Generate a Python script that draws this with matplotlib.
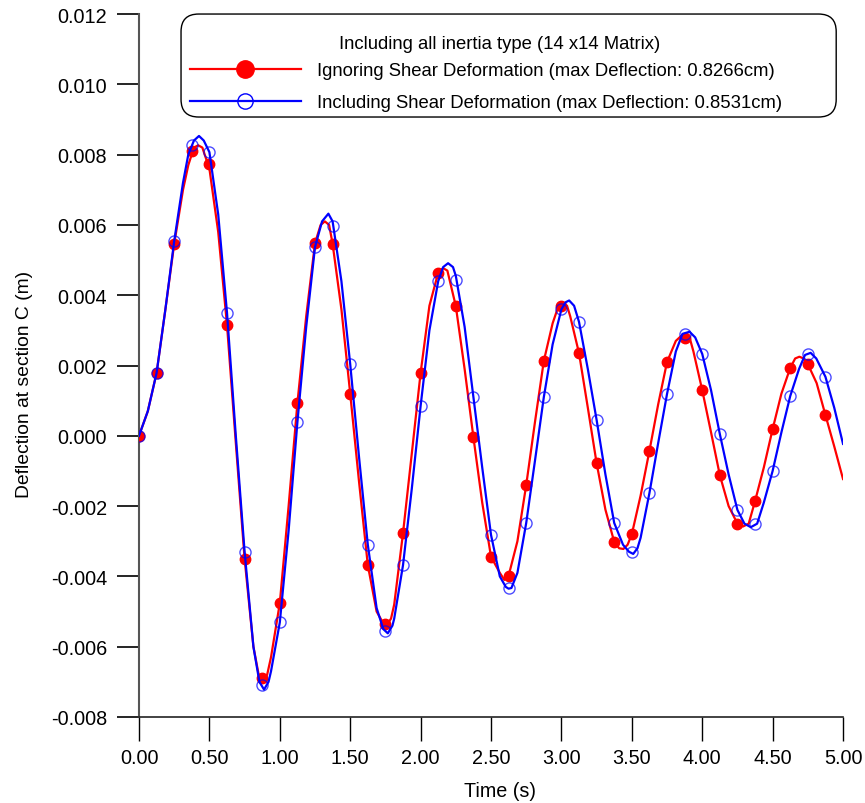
import matplotlib
matplotlib.use("Agg")
import matplotlib.pyplot as plt
from matplotlib.lines import Line2D
from matplotlib.patches import FancyBboxPatch
from matplotlib.ticker import FormatStrFormatter

plt.rcParams["font.family"] = ["Liberation Sans", "DejaVu Sans"]
plt.rcParams["axes.unicode_minus"] = False

# Marker samples (every 0.125 s)
marker_t = [0.0, 0.125, 0.25, 0.375, 0.5, 0.625, 0.75, 0.875, 1.0, 1.125,
            1.25, 1.375, 1.5, 1.625, 1.75, 1.875, 2.0, 2.125, 2.25, 2.375,
            2.5, 2.625, 2.75, 2.875, 3.0, 3.125, 3.25, 3.375, 3.5, 3.625,
            3.75, 3.875, 4.0, 4.125, 4.25, 4.375, 4.5, 4.625, 4.75, 4.875]
red_marker = [0.0, 0.00179, 0.00546, 0.0081, 0.00773, 0.00315, -0.0035, -0.0069, -0.00476, 0.00093,
              0.00548, 0.00546, 0.0012, -0.00368, -0.00536, -0.00277, 0.00179, 0.00464, 0.00369, -0.00004,
              -0.00344, -0.00398, -0.0014, 0.00213, 0.00369, 0.00235, -0.00078, -0.00302, -0.0028, -0.00043,
              0.0021, 0.00279, 0.0013, -0.00112, -0.0025, -0.00186, 0.00019, 0.00193, 0.00204, 0.00059]
blue_marker = [0.0, 0.00179, 0.00554, 0.00827, 0.00807, 0.0035, -0.0033, -0.0071, -0.00531, 0.00039,
               0.00537, 0.00597, 0.00204, -0.0031, -0.00556, -0.00368, 0.00085, 0.0044, 0.00443, 0.0011,
               -0.00282, -0.00433, -0.00248, 0.0011, 0.0036, 0.00324, 0.00045, -0.00248, -0.0033, -0.00163,
               0.00119, 0.0029, 0.00233, 0.00005, -0.00211, -0.0025, -0.001, 0.00113, 0.00233, 0.00168]

# Continuous response curves
red_t = [0.0, 0.0625, 0.125, 0.1875, 0.25, 0.3125, 0.35, 0.39, 0.42, 0.45,
         0.5, 0.5625, 0.625, 0.6875, 0.75, 0.8125, 0.85, 0.88, 0.91, 0.9375,
         1.0, 1.0625, 1.125, 1.1875, 1.25, 1.29, 1.32, 1.35, 1.375, 1.4375,
         1.5, 1.5625, 1.625, 1.6875, 1.73, 1.76, 1.79, 1.8125, 1.875, 1.9375,
         2.0, 2.0625, 2.125, 2.16, 2.19, 2.25, 2.3125, 2.375, 2.4375, 2.5,
         2.5625, 2.595, 2.625, 2.6875, 2.75, 2.8125, 2.875, 2.9375, 2.98, 3.01,
         3.04, 3.0625, 3.125, 3.1875, 3.25, 3.3125, 3.375, 3.41, 3.44, 3.47,
         3.5, 3.5625, 3.625, 3.6875, 3.75, 3.8125, 3.85, 3.88, 3.91, 3.9375,
         4.0, 4.0625, 4.125, 4.1875, 4.25, 4.29, 4.33, 4.375, 4.4375, 4.5,
         4.5625, 4.625, 4.66, 4.69, 4.72, 4.75, 4.8125, 4.875, 4.9375, 5.0]
red_v = [0.0, 0.0007, 0.00179, 0.0036, 0.00546, 0.007, 0.0077, 0.0082, 0.008266, 0.0082,
         0.0076, 0.0058, 0.00315, -0.0002, -0.0035, -0.006, -0.0068, -0.00698, -0.0068, -0.0063,
         -0.00476, -0.002, 0.00093, 0.0034, 0.00548, 0.006, 0.0061, 0.006, 0.00546, 0.0036,
         0.0012, -0.0013, -0.00368, -0.005, -0.0053, -0.00538, -0.0052, -0.0048, -0.00277, -0.0005,
         0.00179, 0.0037, 0.00464, 0.00477, 0.0047, 0.00369, 0.0019, -0.00004, -0.0019, -0.00344,
         -0.0039, -0.0041, -0.00398, -0.003, -0.0014, 0.0004, 0.00213, 0.0032, 0.0037, 0.00378,
         0.0037, 0.0034, 0.00235, 0.0008, -0.00078, -0.0021, -0.00302, -0.0032, -0.00322, -0.0031,
         -0.0028, -0.0017, -0.00043, 0.0009, 0.0021, 0.0027, 0.00284, 0.00286, 0.0028, 0.0024,
         0.0013, 0.0001, -0.00112, -0.002, -0.0025, -0.00258, -0.0025, -0.00186, -0.0009, 0.00019,
         0.0012, 0.00193, 0.0022, 0.00225, 0.0022, 0.00204, 0.0015, 0.00059, -0.0003, -0.00123]

blue_t = [0.0, 0.0625, 0.125, 0.1875, 0.25, 0.3125, 0.35, 0.39, 0.426, 0.46,
          0.5, 0.5625, 0.625, 0.6875, 0.75, 0.8125, 0.855, 0.888, 0.92, 0.9375,
          1.0, 1.0625, 1.125, 1.1875, 1.25, 1.3, 1.345, 1.375, 1.4375, 1.5,
          1.5625, 1.625, 1.6875, 1.735, 1.767, 1.8, 1.8125, 1.875, 1.9375, 2.0,
          2.0625, 2.125, 2.16, 2.195, 2.23, 2.25, 2.3125, 2.375, 2.4375, 2.5,
          2.5625, 2.605, 2.625, 2.645, 2.6875, 2.75, 2.8125, 2.875, 2.9375, 3.0,
          3.03, 3.055, 3.09, 3.125, 3.1875, 3.25, 3.3125, 3.375, 3.4375, 3.48,
          3.51, 3.54, 3.5625, 3.625, 3.6875, 3.75, 3.8125, 3.86, 3.91, 3.95,
          4.0, 4.0625, 4.125, 4.1875, 4.25, 4.3, 4.345, 4.39, 4.4375, 4.5,
          4.5625, 4.625, 4.6875, 4.73, 4.77, 4.81, 4.875, 4.9375, 5.0]
blue_v = [0.0, 0.0007, 0.00179, 0.0036, 0.00554, 0.0072, 0.008, 0.0084, 0.008531, 0.0084,
          0.00807, 0.0063, 0.0035, 0.0, -0.0033, -0.006, -0.007, -0.00722, -0.007, -0.0067,
          -0.00531, -0.0027, 0.00039, 0.0031, 0.00537, 0.0061, 0.00632, 0.0061, 0.0044, 0.00204,
          -0.0006, -0.0031, -0.0049, -0.0055, -0.00562, -0.0054, -0.0052, -0.00368, -0.0015, 0.00085,
          0.003, 0.0044, 0.0048, 0.00491, 0.0048, 0.00455, 0.0031, 0.0011, -0.0009, -0.00282,
          -0.004, -0.0043, -0.00435, -0.00433, -0.0039, -0.00248, -0.0007, 0.0011, 0.0026, 0.0036,
          0.0038, 0.00385, 0.0037, 0.00324, 0.0019, 0.00045, -0.0011, -0.00248, -0.0031, -0.0033,
          -0.00336, -0.0032, -0.0029, -0.00163, -0.0002, 0.00119, 0.0024, 0.0029, 0.00296, 0.0028,
          0.00233, 0.0013, 0.00005, -0.0011, -0.00211, -0.0025, -0.0026, -0.0025, -0.0019, -0.001,
          0.0001, 0.00113, 0.0019, 0.0023, 0.00236, 0.0022, 0.00168, 0.0008, -0.00023]

legend_title = "Including all inertia type (14 x14 Matrix)"
red_label = "Ignoring Shear Deformation (max Deflection: 0.8266cm)"
blue_label = "Including Shear Deformation (max Deflection: 0.8531cm)"

fig = plt.figure(figsize=(8.65, 8.04), dpi=100)
ax = fig.add_axes([0.1607, 0.107, 0.8139, 0.8743])

ax.plot(red_t, red_v, color="#ff0000", linewidth=1.6, zorder=2)
ax.plot(marker_t, red_marker, linestyle="none", marker="o", markersize=7.5,
        color="#ff0000", zorder=3)
ax.plot(blue_t, blue_v, color="#0000ff", linewidth=1.6, zorder=4)
ax.plot(marker_t, blue_marker, linestyle="none", marker="o", markersize=8,
        markerfacecolor="none", markeredgecolor="#0000ff", markeredgewidth=1.0,
        alpha=0.7, zorder=5)

ax.set_xlim(0, 5)
ax.set_ylim(-0.008, 0.012)
ax.set_xticks([i * 0.5 for i in range(11)])
ax.set_yticks([-0.008 + i * 0.002 for i in range(11)])
ax.xaxis.set_major_formatter(FormatStrFormatter("%.2f"))
ax.yaxis.set_major_formatter(FormatStrFormatter("%.3f"))
ax.tick_params(axis="x", length=17, width=1, pad=5, labelsize=14.3, direction="out")
ax.tick_params(axis="y", length=16, width=1.2, pad=7, labelsize=14.3, direction="out")

ax.spines["top"].set_visible(False)
ax.spines["right"].set_visible(False)
ax.spines["left"].set_color("#555555")
ax.spines["left"].set_linewidth(1.5)
ax.spines["bottom"].set_color("#222222")
ax.spines["bottom"].set_linewidth(1.2)

ax.set_xlabel("Time (s)", fontsize=14.2)
ax.set_ylabel("Deflection at section C (m)", fontsize=13.9)
ax.xaxis.set_label_coords(0.513, -0.091)
ax.yaxis.set_label_coords(-0.151, 0.474)

# legend frame and title drawn separately (rounded box)
box = FancyBboxPatch((0.0597, 0.8535), 0.9306, 0.1465,
                     boxstyle="round,pad=0,rounding_size=0.025",
                     transform=ax.transAxes, facecolor="white",
                     edgecolor="black", linewidth=1.0, clip_on=False, zorder=6)
ax.add_patch(box)
ax.text(0.5128, 0.9574, legend_title, transform=ax.transAxes, fontsize=13.3,
        ha="center", va="center", zorder=7)

handles = [
    Line2D([], [], color="#ff0000", linewidth=1.6, marker="o", markersize=12.5),
    Line2D([], [], color="#0000ff", linewidth=1.6, marker="o", markersize=11,
           markerfacecolor="none", markeredgewidth=1.0),
]
leg = ax.legend(handles, [red_label, blue_label],
                loc="upper left", bbox_to_anchor=(0.0724, 0.5, 0.8807, 0.4317),
                mode="expand", borderaxespad=0, borderpad=0,
                fontsize=13.3, handlelength=6.0,
                handletextpad=0.9, labelspacing=0.81,
                frameon=False)
leg.set_zorder(7)

fig.savefig("out.png", dpi=100)
